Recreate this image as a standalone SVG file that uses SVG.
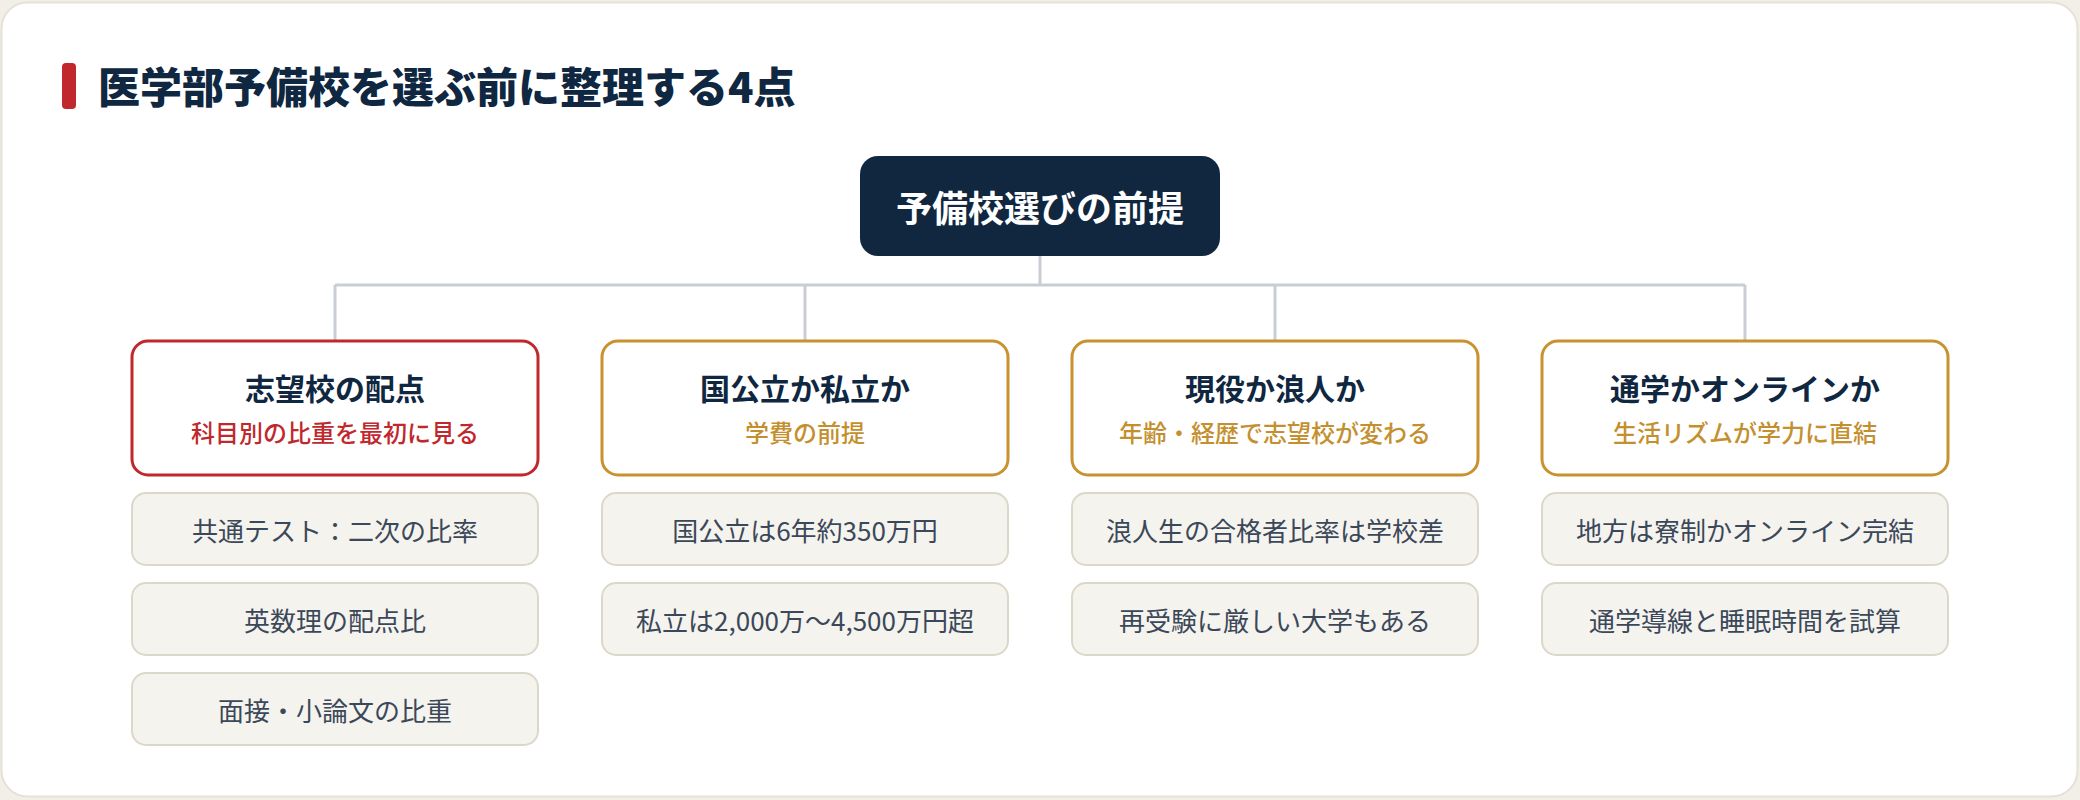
<svg xmlns="http://www.w3.org/2000/svg" width="2080" height="800" viewBox="0 0 2080 800">
  <style>
    text { font-family: "Noto Sans CJK JP", "Noto Sans", sans-serif; }
    .title { font-size: 42px; font-weight: 900; fill: #0f2740; }
    .root-text { font-size: 36px; font-weight: 700; fill: #ffffff; text-anchor: middle; }
    .head { fill: #ffffff; stroke-width: 3; }
    .head-red { stroke: #c0282d; }
    .head-gold { stroke: #c8922f; }
    .head-title { font-size: 30px; font-weight: 700; fill: #0f2740; text-anchor: middle; }
    .sub { font-size: 24px; font-weight: 500; text-anchor: middle; }
    .sub-red { fill: #c0282d; }
    .sub-gold { fill: #c48f2e; }
    .item { fill: #f5f3ee; stroke: #dcd8c9; stroke-width: 2; }
    .item-text { font-size: 26px; font-weight: 400; fill: #3b4859; text-anchor: middle; }
    .conn { stroke: #c9cdd5; stroke-width: 3; fill: none; }
  </style>
  <rect x="0" y="0" width="2080" height="800" fill="#f1efe8"/>
  <rect x="1.5" y="2.5" width="2076" height="794" rx="26" fill="#ffffff" stroke="#e4e1d6" stroke-width="2"/>

  <g id="title">
    <rect x="62" y="63" width="14" height="46" rx="4" fill="#c0282d"/>
    <text class="title" x="98" y="103">医学部予備校を選ぶ前に整理する4点</text>
  </g>

  <g id="connectors">
    <path class="conn" d="M1040 256 V285"/>
    <path class="conn" d="M335 285 H1745"/>
    <path class="conn" d="M335 285 V341"/>
    <path class="conn" d="M805 285 V341"/>
    <path class="conn" d="M1275 285 V341"/>
    <path class="conn" d="M1745 285 V341"/>
  </g>

  <g id="root">
    <rect x="860" y="156" width="360" height="100" rx="18" fill="#10273f"/>
    <text class="root-text" x="1040" y="222">予備校選びの前提</text>
  </g>

  <g id="col1">
    <g id="head1">
      <rect class="head head-red" x="132" y="341" width="406" height="134" rx="16"/>
      <text class="head-title" x="335" y="400">志望校の配点</text>
      <text class="sub sub-red" x="335" y="442">科目別の比重を最初に見る</text>
    </g>
    <g id="item1a">
      <rect class="item" x="132" y="493" width="406" height="72" rx="14"/>
      <text class="item-text" x="335" y="541">共通テスト：二次の比率</text>
    </g>
    <g id="item1b">
      <rect class="item" x="132" y="583" width="406" height="72" rx="14"/>
      <text class="item-text" x="335" y="631">英数理の配点比</text>
    </g>
    <g id="item1c">
      <rect class="item" x="132" y="673" width="406" height="72" rx="14"/>
      <text class="item-text" x="335" y="721">面接・小論文の比重</text>
    </g>
  </g>

  <g id="col2">
    <g id="head2">
      <rect class="head head-gold" x="602" y="341" width="406" height="134" rx="16"/>
      <text class="head-title" x="805" y="400">国公立か私立か</text>
      <text class="sub sub-gold" x="805" y="442">学費の前提</text>
    </g>
    <g id="item2a">
      <rect class="item" x="602" y="493" width="406" height="72" rx="14"/>
      <text class="item-text" x="805" y="541">国公立は6年約350万円</text>
    </g>
    <g id="item2b">
      <rect class="item" x="602" y="583" width="406" height="72" rx="14"/>
      <text class="item-text" x="805" y="631">私立は2,000万〜4,500万円超</text>
    </g>
  </g>

  <g id="col3">
    <g id="head3">
      <rect class="head head-gold" x="1072" y="341" width="406" height="134" rx="16"/>
      <text class="head-title" x="1275" y="400">現役か浪人か</text>
      <text class="sub sub-gold" x="1275" y="442">年齢・経歴で志望校が変わる</text>
    </g>
    <g id="item3a">
      <rect class="item" x="1072" y="493" width="406" height="72" rx="14"/>
      <text class="item-text" x="1275" y="541">浪人生の合格者比率は学校差</text>
    </g>
    <g id="item3b">
      <rect class="item" x="1072" y="583" width="406" height="72" rx="14"/>
      <text class="item-text" x="1275" y="631">再受験に厳しい大学もある</text>
    </g>
  </g>

  <g id="col4">
    <g id="head4">
      <rect class="head head-gold" x="1542" y="341" width="406" height="134" rx="16"/>
      <text class="head-title" x="1745" y="400">通学かオンラインか</text>
      <text class="sub sub-gold" x="1745" y="442">生活リズムが学力に直結</text>
    </g>
    <g id="item4a">
      <rect class="item" x="1542" y="493" width="406" height="72" rx="14"/>
      <text class="item-text" x="1745" y="541">地方は寮制かオンライン完結</text>
    </g>
    <g id="item4b">
      <rect class="item" x="1542" y="583" width="406" height="72" rx="14"/>
      <text class="item-text" x="1745" y="631">通学導線と睡眠時間を試算</text>
    </g>
  </g>
</svg>
